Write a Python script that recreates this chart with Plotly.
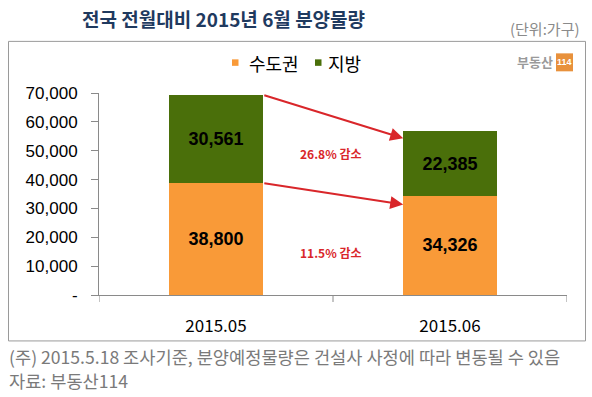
import plotly.graph_objects as go

categories = ["2015.05", "2015.06"]
sudogwon = [38800, 34326]   # 수도권
jibang = [30561, 22385]     # 지방
series_names = ["수도권", "지방"]
y_tickvals = [0, 10000, 20000, 30000, 40000, 50000, 60000, 70000]
y_ticktext = ["-", "10,000", "20,000", "30,000", "40,000", "50,000", "60,000", "70,000"]

ORANGE = "#F99A38"
GREEN = "#4A6F0A"
RED = "#D9262A"
FONT = "Noto Sans CJK KR"

fig = go.Figure()
fig.add_trace(go.Bar(
    x=[0, 1], y=sudogwon, name=series_names[0], marker=dict(color=ORANGE, line=dict(width=0)), width=0.4,
    text=[f"{v:,}" for v in sudogwon], textposition="inside", insidetextanchor="middle",
    textfont=dict(family="Liberation Sans, Arial", size=18, color="black", weight="bold"),
))
fig.add_trace(go.Bar(
    x=[0, 1], y=jibang, name=series_names[1], marker=dict(color=GREEN, line=dict(width=0)), width=0.4,
    text=[f"{v:,}" for v in jibang], textposition="inside", insidetextanchor="middle",
    textfont=dict(family="Liberation Sans, Arial", size=18, color="black", weight="bold"),
))

totals = [a + b for a, b in zip(sudogwon, jibang)]
# arrows between bars
arrows = [
    (totals[0], totals[1] - 2400),
    (sudogwon[0], sudogwon[1] - 3000),
]
for y0, y1 in arrows:
    fig.add_annotation(
        x=0.8, y=y1, ax=0.2, ay=y0, xref="x", yref="y", axref="x", ayref="y",
        showarrow=True, arrowhead=2, arrowsize=1.3, arrowwidth=2, arrowcolor=RED, text="",
    )

pct_j = (jibang[0] - jibang[1]) / jibang[0] * 100
pct_s = (sudogwon[0] - sudogwon[1]) / sudogwon[0] * 100
fig.add_annotation(x=0.49, y=49100, xref="x", yref="y", showarrow=False,
                   text=f"<b>{pct_j:.1f}% 감소</b>", font=dict(family=FONT, size=12, color=RED))
fig.add_annotation(x=0.49, y=14900, xref="x", yref="y", showarrow=False,
                   text=f"<b>{pct_s:.1f}% 감소</b>", font=dict(family=FONT, size=12, color=RED))

# plot area pixel geometry
L, R, T, B = 99, 567, 92.7, 295
W, H = R - L, B - T
def px(x): return (x - L) / W
def py(y): return (B - y) / H

# title
fig.add_annotation(x=px(223), y=py(18), xref="paper", yref="paper", showarrow=False,
                   xanchor="center", yanchor="middle",
                   text="<b>전국 전월대비 2015년 6월 분양물량</b>",
                   font=dict(family=FONT, size=19, color="#1F3A5F"))
fig.add_annotation(x=px(582), y=py(28), xref="paper", yref="paper", showarrow=False,
                   xanchor="right", yanchor="middle", text="(단위:가구)",
                   font=dict(family=FONT, size=15, color="#8a8a8a"))
# manual legend
legend_items = [(series_names[0], ORANGE, 232, 247), (series_names[1], GREEN, 315, 326)]
for name, col, sx, tx in legend_items:
    fig.add_shape(type="rect", xref="paper", yref="paper", x0=px(sx), x1=px(sx + 6.5),
                  y0=py(65.5), y1=py(59), fillcolor=col, line=dict(width=0))
    fig.add_annotation(x=px(tx), y=py(63), xref="paper", yref="paper", showarrow=False,
                       xanchor="left", yanchor="middle", text=name,
                       font=dict(family=FONT, size=18, color="black"))
# logo
fig.add_annotation(x=px(555), y=py(61.5), xref="paper", yref="paper", showarrow=False,
                   xanchor="right", yanchor="middle", text="<b>부동산</b>",
                   font=dict(family=FONT, size=13, color="#9a9a9a"))
fig.add_shape(type="rect", xref="paper", yref="paper", x0=px(556), x1=px(573), y0=py(71), y1=py(53),
              fillcolor="#E8913C", line=dict(width=0))
fig.add_annotation(x=px(564.5), y=py(62), xref="paper", yref="paper", showarrow=False,
                   xanchor="center", yanchor="middle",
                   text="<b>114</b>", font=dict(family="Liberation Sans", size=9, color="white"))
# border
fig.add_shape(type="rect", xref="paper", yref="paper", x0=px(8.5), x1=px(585.5), y0=py(341), y1=py(41),
              line=dict(color="#9a9a9a", width=1))
# footnotes
fig.add_annotation(x=px(7), y=py(357), xref="paper", yref="paper", showarrow=False,
                   xanchor="left", yanchor="middle",
                   text="(주) 2015.5.18 조사기준, 분양예정물량은 건설사 사정에 따라 변동될 수 있음",
                   font=dict(family=FONT, size=17.6, color="#7a7a7a"))
fig.add_annotation(x=px(7), y=py(381), xref="paper", yref="paper", showarrow=False,
                   xanchor="left", yanchor="middle", text="자료: 부동산114",
                   font=dict(family=FONT, size=17.6, color="#7a7a7a"))

fig.update_layout(
    barmode="stack",
    width=592, height=397,
    margin=dict(l=L, r=592 - R, t=T, b=397 - B, pad=0, autoexpand=False),
    paper_bgcolor="white", plot_bgcolor="white",
    showlegend=False,
    xaxis=dict(
        range=[-0.5, 1.5], tickvals=[0, 1], ticktext=categories,
        showline=True, linecolor="#8a8a8a", linewidth=1, showgrid=False, zeroline=False,
        ticks="", tickfont=dict(family=FONT, size=17, color="black"),
        ticklabelstandoff=16,
    ),
    yaxis=dict(
        range=[0, 70000], tickvals=y_tickvals, ticktext=y_ticktext,
        showline=True, linecolor="#8a8a8a", linewidth=1, showgrid=False, zeroline=False,
        ticks="outside", ticklen=7, tickcolor="#8a8a8a",
        tickfont=dict(family="Liberation Sans, Arial", size=17, color="black"),
        ticklabelstandoff=10,
    ),
)
# x-axis boundary ticks
for xb in [-0.5, 0.5, 1.5]:
    fig.add_shape(type="line", xref="x", yref="paper", x0=xb, x1=xb, y0=0, y1=-7 / H,
                  line=dict(color="#8a8a8a", width=1))

fig.write_html("out.html", config={"displayModeBar": False},
               post_script="document.body.style.margin='0px';")
